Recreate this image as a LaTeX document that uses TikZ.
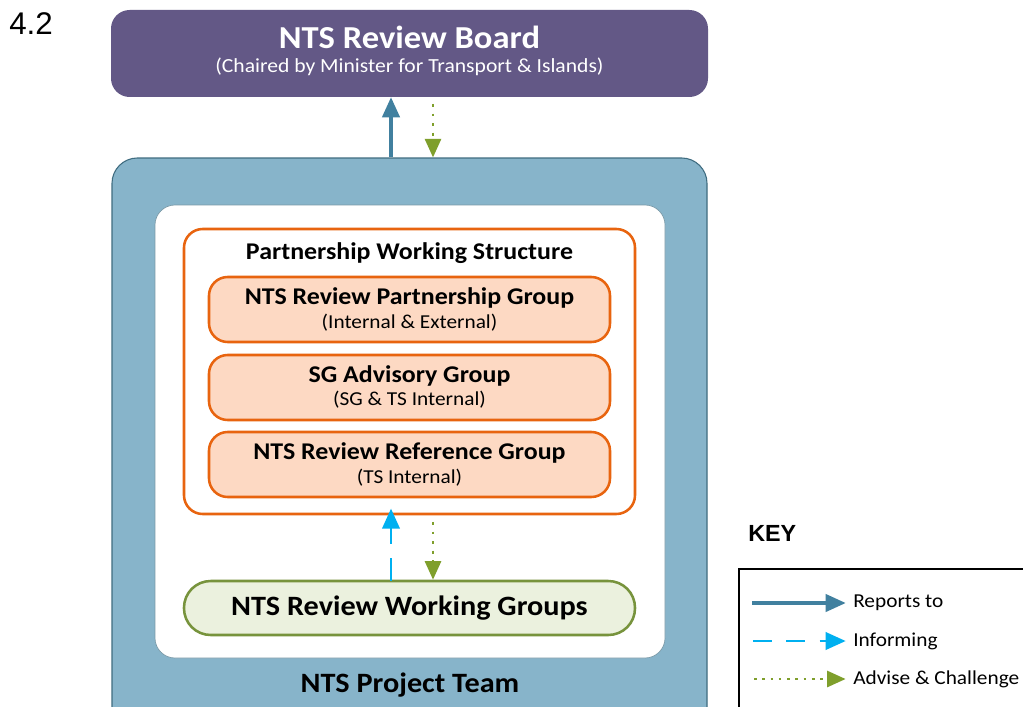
\documentclass[tikz,border=0pt]{standalone}
\usepackage{fontspec}
\setmainfont{Carlito}[FakeStretch=1.08]
\newfontfamily\arialfont{Liberation Sans}
\usetikzlibrary{arrows.meta}
\definecolor{boardpurple}{HTML}{635886}
\definecolor{teamfill}{HTML}{87B4CA}
\definecolor{teamline}{HTML}{3F6C80}
\definecolor{orangeline}{HTML}{E8640F}
\definecolor{peach}{HTML}{FDD9C3}
\definecolor{wgfill}{HTML}{EBF1DE}
\definecolor{wgline}{HTML}{77933C}
\definecolor{reportcol}{HTML}{41809F}
\definecolor{informcol}{HTML}{00B0F0}
\definecolor{advisecol}{HTML}{7F9F2C}
\tikzset{
  px/.style={x=0.75pt,y=-0.75pt},
  box/.style={rounded corners=#1, inner sep=0pt, align=center},
  subbox/.style={box=14pt, fill=peach, draw=orangeline, line width=1.9pt,
    minimum width=401*0.75pt, minimum height=65*0.75pt},
  reports/.style={draw=reportcol, line width=2.3pt,
    -{Triangle[length=15pt,width=13pt]}},
  informing/.style={draw=informcol, line width=2pt, dash pattern=on 17pt off 11pt,
    -{Triangle[length=15pt,width=13pt]}},
  advise/.style={draw=advisecol, line width=2.2pt, dash pattern=on 2.2pt off 5pt,
    -{Triangle[length=14pt,width=12pt,fill=advisecol]}},
  title/.style={font=\bfseries\fontsize{#1}{#1}\selectfont},
  sub/.style={font=\fontsize{#1}{#1}\selectfont},
}
\begin{document}
\begin{tikzpicture}[px]
\useasboundingbox (0,0) rectangle (1023,706);
\clip (0,0) rectangle (1023,706);
\fill[white] (0,0) rectangle (1023,706);

\node[anchor=north west, inner sep=0pt, font=\arialfont\fontsize{23.5}{23.5}\selectfont] (num) at (9,12) {4.2};

% Board
\node[box=14pt, fill=boardpurple, minimum width=597*0.75pt, minimum height=87*0.75pt] (board) at (409.5,53.5) {};
\node[title=24pt, text=white] (boardtitle) at (409.5,37) {NTS Review Board};
\node[sub=15pt, text=white] (boardsub) at (409.5,67) {(Chaired by Minister for Transport \& Islands)};

% Project team
\node[box=19pt, fill=teamfill, draw=teamline, line width=0.8pt, minimum width=595*0.75pt, minimum height=580*0.75pt] (team) at (409.5,448) {};
\node[box=15pt, fill=white, draw=teamline!70, line width=0.5pt, minimum width=510*0.75pt, minimum height=453*0.75pt] (inner) at (410,431.5) {};
\node[title=21pt] (teamtitle) at (410,685) {NTS Project Team};

% Partnership structure
\node[box=14pt, fill=white, draw=orangeline, line width=1.9pt, minimum width=451*0.75pt, minimum height=285*0.75pt] (pws) at (409.5,371.5) {};
\node[title=18pt] (pwstitle) at (409.5,253) {Partnership Working Structure};

\node[subbox] (g1) at (409.5,309.5) {};
\node[title=18pt] (g1t) at (409.5,298) {NTS Review Partnership Group};
\node[sub=14.8pt] (g1s) at (409.5,323) {(Internal \& External)};

\node[subbox] (g2) at (409.5,387.5) {};
\node[title=18pt] (g2t) at (409.5,376) {SG Advisory Group};
\node[sub=14.8pt] (g2s) at (409.5,400) {(SG \& TS Internal)};

\node[subbox] (g3) at (409.5,464.5) {};
\node[title=18pt] (g3t) at (409.5,453) {NTS Review Reference Group};
\node[sub=14.8pt] (g3s) at (409.5,478) {(TS Internal)};

% Working groups
\node[box=20pt, fill=wgfill, draw=wgline, line width=1.9pt, minimum width=451*0.75pt, minimum height=54*0.75pt, title=21pt] (wg) at (409.5,608) {NTS Review Working Groups};

% Connectors
\coordinate (rx) at (391,0);
\coordinate (ax) at (433,0);
\draw[reports] (rx |- team.north) -- (rx |- board.south);
\draw[advise, shorten <=5pt] (ax |- board.south) -- (ax |- team.north);
\draw[informing] ([yshift=-1pt]rx |- wg.north) -- ([yshift=5pt]rx |- pws.south);
\draw[advise, shorten <=5pt] (ax |- pws.south) -- (ax |- wg.north);

% Key
\node[anchor=north west, inner sep=0pt, font=\arialfont\bfseries\fontsize{17.5}{17.5}\selectfont] (keytitle) at (748,525) {KEY};
\draw[black, line width=1.6pt] (739,730) -- (739,569) -- (1040,569);
\node[anchor=west, inner sep=0pt, sub=14.8pt] (k1) at (853,603) {Reports to};
\node[anchor=west, inner sep=0pt, sub=14.8pt] (k2) at (853,641) {Informing};
\node[anchor=west, inner sep=0pt, sub=14.8pt] (k3) at (853,679) {Advise \& Challenge};
\coordinate (k1s) at (752,603);
\coordinate (k2s) at (753,641);
\coordinate (k3s) at (754,679);
\draw[reports] (k1s) -- ([xshift=-5.5pt]k1.west);
\draw[informing, dash pattern=on 14pt off 11pt] (k2s) -- ([xshift=-5.5pt]k2.west);
\draw[advise, dash pattern=on 2pt off 4.2pt] (k3s) -- ([xshift=-5.5pt]k3.west);
\end{tikzpicture}
\end{document}
